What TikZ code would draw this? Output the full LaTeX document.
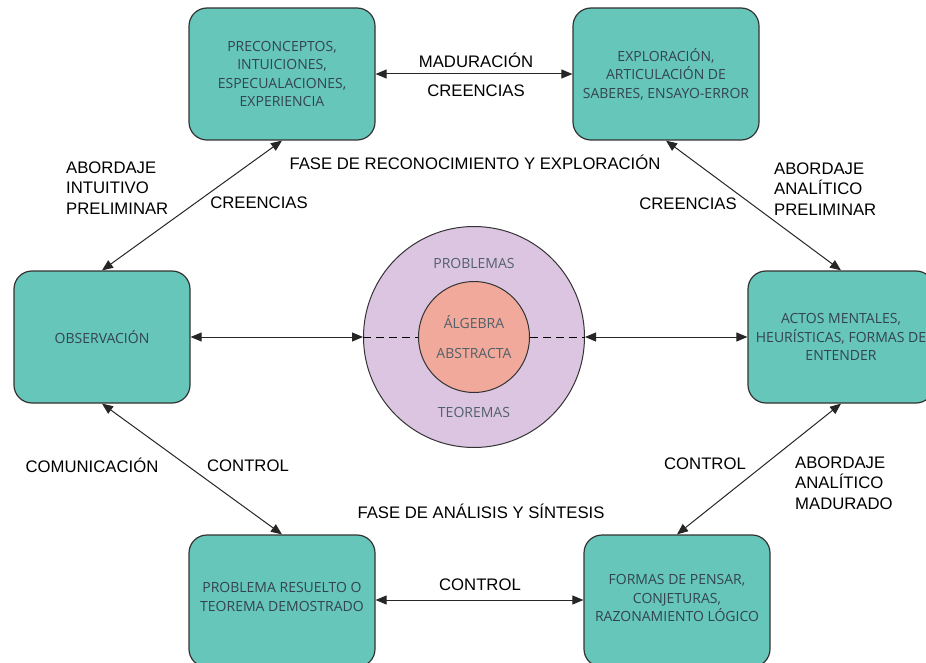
\documentclass[tikz,border=0pt]{standalone}
\usepackage{fontspec}
\setmainfont{Liberation Sans}
\newfontfamily\boxfont{Open Sans}
\usetikzlibrary{arrows.meta}
\definecolor{boxfill}{HTML}{66C6B9}
\definecolor{boxtext}{HTML}{34444E}
\definecolor{outerfill}{HTML}{DCC5E0}
\definecolor{innerfill}{HTML}{F0A99A}
\definecolor{edgecol}{HTML}{333333}
\tikzset{
  stage/.style={draw=edgecol, line width=1.2pt, fill=boxfill, rounded corners=18pt,
    minimum width=186pt, minimum height=132pt, align=center, text=boxtext,
    font=\boxfont\fontsize{14}{18.5}\selectfont, inner sep=2pt},
  lbl/.style={font=\fontsize{16.7}{20.5}\selectfont, text=black, inner sep=0pt},
  lbll/.style={lbl, align=left, anchor=west},
  link/.style={draw=black!85, line width=1pt, {Triangle[length=11pt,width=9pt]}-{Triangle[length=11pt,width=9pt]}},
  ctext/.style={font=\boxfont\fontsize{14}{18.5}\selectfont, text=boxtext!85, inner sep=0pt}
}
\begin{document}
\begin{tikzpicture}[x=1pt,y=-1pt]
\useasboundingbox (0,0) rectangle (926,663);
% boxes
\node[stage] (tl) at (282,74) {PRECONCEPTOS,\\INTUICIONES,\\ESPECUALACIONES,\\EXPERIENCIA};
\node[stage] (tr) at (666,74) {EXPLORACIÓN,\\ARTICULACIÓN DE\\SABERES, ENSAYO-ERROR};
\node[stage, minimum width=176pt] (obs) at (102,337) {OBSERVACIÓN};
\node[stage] (rt) at (841,337) {ACTOS MENTALES,\\HEURÍSTICAS, FORMAS DE\\ENTENDER};
\node[stage] (bl) at (282,601) {};
\node[stage] (br) at (677,601) {};
\node[align=center, text=boxtext, font=\boxfont\fontsize{14}{18.5}\selectfont] (bltext) at (282,597) {PROBLEMA RESUELTO O\\TEOREMA DEMOSTRADO};
\node[align=center, text=boxtext, font=\boxfont\fontsize{14}{18.5}\selectfont] (brtext) at (677,598) {FORMAS DE PENSAR,\\CONJETURAS,\\RAZONAMIENTO LÓGICO};
% circles
\node[circle, draw=edgecol, line width=1pt, fill=outerfill, minimum size=221pt, inner sep=0pt] (outer) at (474,337) {};
\node[circle, draw=edgecol, line width=1pt, fill=innerfill, minimum size=111pt, inner sep=0pt] (inner) at (474,337) {};
\node[ctext] (prob) at (474,263) {PROBLEMAS};
\node[ctext] (teo) at (474,412) {TEOREMAS};
\node[ctext] (alg) at (474,322) {ÁLGEBRA};
\node[ctext] (abs) at (474,353) {ABSTRACTA};
\draw[line width=1pt, dash pattern=on 8pt off 5pt] (outer.west) -- (inner.west);
\draw[line width=1pt, dash pattern=on 8pt off 5pt] (inner.east) -- (outer.east);
% connectors
\draw[link] (tl.east) -- (tr.west);
\draw[link] (obs.east) -- (outer.west);
\draw[link] (outer.east) -- (rt.west);
\draw[link] (bl.east |- 0,600) -- (br.west |- 0,600);
\draw[link] (tl.south) -- (obs.north);
\draw[link] (tr.south) -- (rt.north);
\draw[link] (obs.south) -- (bl.north);
\draw[link] (rt.south) -- (br.north);
% labels
\node[lbl] (mad) at (476,60) {MADURACIÓN};
\node[lbl] (cre1) at (476,91) {CREENCIAS};
\node[lbl] (fase1) at (475,162) {FASE DE RECONOCIMIENTO Y EXPLORACIÓN};
\node[lbll] (aip) at (66,188) {ABORDAJE\\INTUITIVO\\PRELIMINAR};
\node[lbl] (cre2) at (259,203) {CREENCIAS};
\node[lbl] (cre3) at (688,204) {CREENCIAS};
\node[lbll] (aap) at (774,189) {ABORDAJE\\ANALÍTICO\\PRELIMINAR};
\node[lbl] (com) at (92,465) {COMUNICACIÓN};
\node[lbl] (ctl1) at (248,466) {CONTROL};
\node[lbl] (ctl2) at (705,464) {CONTROL};
\node[lbll] (aam) at (795,483) {ABORDAJE\\ANALÍTICO\\MADURADO};
\node[lbl] (fase2) at (481,511) {FASE DE ANÁLISIS Y SÍNTESIS};
\node[lbl] (ctl3) at (480,585) {CONTROL};
\end{tikzpicture}
\end{document}
